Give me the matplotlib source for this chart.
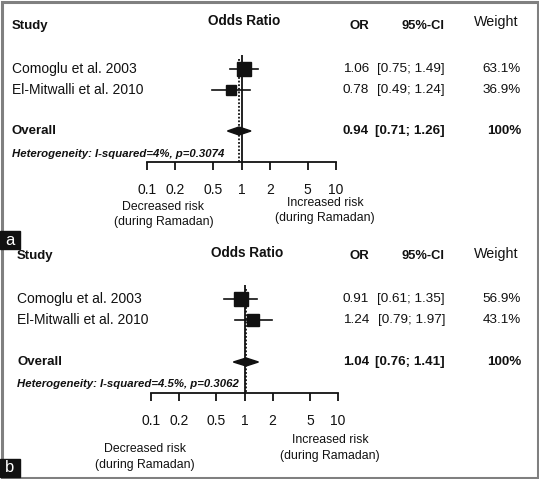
import numpy as np
import matplotlib
matplotlib.use("Agg")
import matplotlib.pyplot as plt
from matplotlib.patches import Rectangle

plt.rcParams['font.family'] = ['Liberation Sans', 'DejaVu Sans']

# data
studies = ["Comoglu et al. 2003", "El-Mitwalli et al. 2010"]
a_or = [1.06, 0.78]
a_lo = [0.75, 0.49]
a_hi = [1.49, 1.24]
a_weight = [63.1, 36.9]
a_pooled = [0.94, 0.71, 1.26]
a_het = "Heterogeneity: I-squared=4%, p=0.3074"

b_or = [0.91, 1.24]
b_lo = [0.61, 0.79]
b_hi = [1.35, 1.97]
b_weight = [56.9, 43.1]
b_pooled = [1.04, 0.76, 1.41]
b_het = "Heterogeneity: I-squared=4.5%, p=0.3062"

tick_vals = [0.1, 0.2, 0.5, 1, 2, 5, 10]
tick_labels = ["0.1", "0.2", "0.5", "1", "2", "5", "10"]

W, H = 539, 479
fig = plt.figure(figsize=(W / 100, H / 100), dpi=100)
fig.patch.set_facecolor("white")
ov = fig.add_axes([0, 0, 1, 1])
ov.set_xlim(0, W)
ov.set_ylim(H, 0)
ov.axis("off")

ink = "#111111"


def draw_panel(ors, los, his, weights, pooled, het, lay):
    x0, x1 = lay["xr"]
    top, axy = lay["top"], lay["axis"]
    ax = fig.add_axes([x0 / W, 1 - axy / H, (x1 - x0) / W, (axy - top) / H])
    ax.set_xscale("log")
    ax.set_xlim(0.1, 10)
    ax.set_ylim(axy, top)
    ax.patch.set_alpha(0)
    for s in ["top", "left", "right"]:
        ax.spines[s].set_visible(False)
    ax.spines["bottom"].set_linewidth(1.3)
    ax.spines["bottom"].set_color(ink)
    ax.set_yticks([])
    ax.set_xticks(tick_vals)
    ax.set_xticklabels(tick_labels)
    ax.minorticks_off()
    ax.tick_params(axis="x", direction="out", length=5.5, width=1.3, color=ink,
                   labelsize=10, pad=9.5, labelcolor=ink)

    ax.axvline(1, color=ink, lw=1.3)
    ax.plot([pooled[0], pooled[0]], [top + 4, axy], color=ink, lw=1.3,
            ls=(0, (1, 1)))
    wmax = max(a_weight + b_weight)
    for y, o, lo, hi, w in zip(lay["rows"], ors, los, his, weights):
        ax.plot([lo, hi], [y, y], color=ink, lw=1.2, clip_on=False)
        ax.plot([o], [y], marker="s", color=ink, ms=14 * 0.72 * np.sqrt(w / wmax),
                clip_on=False)
    yo = lay["overall"]
    ax.fill([pooled[1], pooled[0], pooled[2], pooled[0]],
            [yo, yo - 4, yo, yo + 4], color=ink, clip_on=False)

    # text columns
    dx = lay["dx"]
    ov.text(12 + dx, lay["hdr"], "Study", fontsize=9.5, fontweight="bold", color=ink, va="center")
    ov.text(lay["odds_x"], lay["odds_y"], "Odds Ratio", fontsize=9.8, fontweight="bold",
            color=ink, ha="center", va="center")
    ov.text(369, lay["hdr"], "OR", fontsize=9.5, fontweight="bold", color=ink, ha="right", va="center")
    ov.text(445, lay["hdr"], "95%-CI", fontsize=9.3, fontweight="bold", color=ink, ha="right", va="center")
    ov.text(496, lay["odds_y"] + 1, "Weight", fontsize=10.3, color=ink, ha="center", va="center")
    for y, name, o, lo, hi, w in zip(lay["rows"], studies, ors, los, his, weights):
        ov.text(12 + dx, y, name, fontsize=10, color=ink, va="center")
        ov.text(369, y, f"{o:.2f}", fontsize=9.7, color=ink, ha="right", va="center")
        ov.text(445, y, f"[{lo:.2f}; {hi:.2f}]", fontsize=9.7, color=ink, ha="right", va="center")
        ov.text(521, y, f"{w:.1f}%", fontsize=9.7, color=ink, ha="right", va="center")
    ov.text(12 + dx, yo, "Overall", fontsize=9.5, fontweight="bold", color=ink, va="center")
    ov.text(369, yo, f"{pooled[0]:.2f}", fontsize=9.6, fontweight="bold", color=ink, ha="right", va="center")
    ov.text(445, yo, f"[{pooled[1]:.2f}; {pooled[2]:.2f}]", fontsize=9.6, fontweight="bold",
            color=ink, ha="right", va="center")
    ov.text(521, yo, "100%", fontsize=9.6, fontweight="bold", color=ink, ha="right", va="center")
    ov.text(12 + dx, lay["het"], het, fontsize=8.2, fontweight="bold", fontstyle="italic",
            color=ink, va="center")
    dxc, dys = lay["dec"]
    for y, s in zip(dys, ["Decreased risk", "(during Ramadan)"]):
        ov.text(dxc, y, s, fontsize=8.8, color=ink, ha="center", va="center")
    ixc, iys = lay["inc"]
    for y, s in zip(iys, ["Increased risk", "(during Ramadan)"]):
        ov.text(ixc, y, s, fontsize=8.8, color=ink, ha="center", va="center")

    # panel letter
    ov.add_patch(Rectangle((0, lay["box"]), 20, 18, color="#111111", zorder=5))
    ov.text(10, lay["box"] + 9, lay["letter"], fontsize=12, color="white",
            ha="center", va="center", zorder=6)


lay_a = dict(xr=(147, 336), top=55, axis=162, rows=[69, 90], overall=131, het=154,
             hdr=26, odds_x=244, odds_y=21, dx=0, dec=(163.5, [207, 222]),
             inc=(325, [203, 218]), box=231, letter="a")
lay_b = dict(xr=(151, 338), top=285, axis=393, rows=[299, 320], overall=362, het=384,
             hdr=256, odds_x=247, odds_y=253, dx=5, dec=(145, [449, 465]),
             inc=(330, [440, 456]), box=459, letter="b")

draw_panel(a_or, a_lo, a_hi, a_weight, a_pooled, a_het, lay_a)
draw_panel(b_or, b_lo, b_hi, b_weight, b_pooled, b_het, lay_b)

ov.add_patch(Rectangle((1.5, 1.5), W - 3, H - 3, fill=False, ec="#808080", lw=2.2, zorder=4))

fig.savefig("out.png", dpi=100)
